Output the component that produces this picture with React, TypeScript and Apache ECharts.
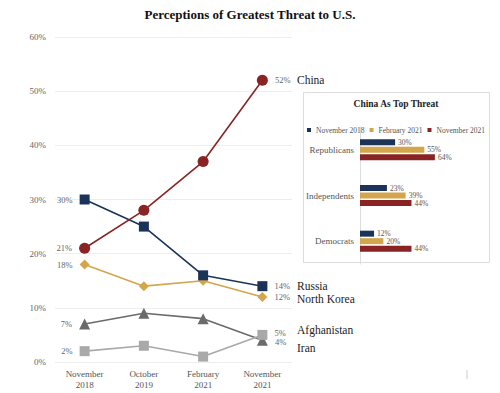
import React, { useEffect, useRef } from "react";
import * as echarts from "echarts";

const periods = ["November\n2018", "October\n2019", "February\n2021", "November\n2021"];
const china = [21, 28, 37, 52];
const russia = [30, 25, 16, 14];
const northKorea = [18, 14, 15, 12];
const afghanistan = [7, 9, 8, 4];
const iran = [2, 3, 1, 5];
const yTicks = [0, 10, 20, 30, 40, 50, 60];

const parties = ["Republicans", "Independents", "Democrats"];
const nov2018 = [30, 23, 12];
const feb2021 = [55, 39, 20];
const nov2021 = [64, 44, 44];

const SERIF = "'Liberation Serif', 'DejaVu Serif', serif";
const NAVY = "#1b3358";
const GOLD = "#d3a54c";
const RED = "#8a2424";
const DGRAY = "#6b6b6b";
const LGRAY = "#a9a9a9";

function endLabels(vals: number[], lastOffsetY = 0) {
  const last = vals.length - 1;
  return vals.map((v, i) => ({
    value: v,
    label: {
      show: i === 0 || i === last,
      position: i === 0 ? "left" : "right",
      distance: 7,
      offset: i === last ? [0, lastOffsetY] : [0, 0],
      formatter: "{c}%",
      fontSize: 8.5,
      color: "#666",
      fontFamily: SERIF,
    },
  }));
}

function lineSeries(name: string, vals: number[], color: string, symbol: string, size: number, lastOffsetY = 0) {
  return {
    name,
    type: "line",
    xAxisIndex: 0,
    yAxisIndex: 0,
    data: endLabels(vals, lastOffsetY),
    symbol,
    symbolSize: size,
    itemStyle: { color },
    lineStyle: { color, width: 1.6 },
  };
}

export default function App() {
  const ref = useRef<HTMLDivElement>(null);
  useEffect(() => {
    if (!ref.current) return;
    const chart = echarts.init(ref.current, undefined, { renderer: "svg" });
    const barLabel = { show: true, position: "right", distance: 3, formatter: "{c}%", fontSize: 7.5, color: "#555", fontFamily: SERIF };
    chart.setOption({
      animation: false,
      backgroundColor: "#fff",
      textStyle: { fontFamily: SERIF },
      title: {
        text: "Perceptions of Greatest Threat to U.S.",
        left: "center",
        top: 3,
        textStyle: { fontFamily: SERIF, fontSize: 13, fontWeight: "bold", color: "#111" },
      },
      legend: {
        top: 121,
        left: 302,
        width: 195,
        itemWidth: 4,
        itemHeight: 4,
        itemGap: 5,
        icon: "rect",
        textStyle: { fontSize: 7.5, color: "#555", fontFamily: SERIF },
        data: ["November 2018", "February 2021", "November 2021"],
      },
      grid: [
        { left: 55, right: 208, top: 37, bottom: 31 },
        { left: 360, width: 117, top: 127, height: 137 },
      ],
      xAxis: [
        {
          type: "category",
          gridIndex: 0,
          data: periods,
          boundaryGap: true,
          axisLine: { show: false },
          axisTick: { show: false },
          axisLabel: { fontSize: 9, color: "#555", lineHeight: 11, margin: 6, fontFamily: SERIF },
        },
        { type: "value", gridIndex: 1, min: 0, max: 100, show: false },
      ],
      yAxis: [
        {
          type: "value",
          gridIndex: 0,
          min: yTicks[0],
          max: yTicks[yTicks.length - 1],
          interval: 10,
          axisLabel: { formatter: "{value}%", fontSize: 9, color: "#666", margin: 9, fontFamily: SERIF },
          splitLine: { lineStyle: { color: "#eeeeee" } },
          axisLine: { show: false },
          axisTick: { show: false },
        },
        {
          type: "category",
          gridIndex: 1,
          data: parties,
          inverse: true,
          axisLine: { show: true, lineStyle: { color: "#dddddd" } },
          axisTick: { show: false },
          axisLabel: { fontSize: 9, color: "#555", margin: 6, fontFamily: SERIF },
        },
      ],
      graphic: [
        {
          type: "rect",
          shape: { x: 303.5, y: 92.5, width: 186, height: 170 },
          style: { fill: "none", stroke: "#dddddd", lineWidth: 1 },
          z: -1,
        },
        {
          type: "text",
          x: 396,
          y: 104,
          style: { text: "China As Top Threat", font: `bold 9.5px ${SERIF}`, fill: "#222", textAlign: "center", textVerticalAlign: "middle" },
        },
        { type: "text", x: 297, y: 80, style: { text: "China", font: `11.5px ${SERIF}`, fill: "#222", textVerticalAlign: "middle" } },
        { type: "text", x: 297, y: 286, style: { text: "Russia", font: `11.5px ${SERIF}`, fill: "#222", textVerticalAlign: "middle" } },
        { type: "text", x: 297, y: 299, style: { text: "North Korea", font: `11.5px ${SERIF}`, fill: "#222", textVerticalAlign: "middle" } },
        { type: "text", x: 297, y: 330, style: { text: "Afghanistan", font: `11.5px ${SERIF}`, fill: "#222", textVerticalAlign: "middle" } },
        { type: "text", x: 297, y: 348, style: { text: "Iran", font: `11.5px ${SERIF}`, fill: "#222", textVerticalAlign: "middle" } },
        { type: "line", shape: { x1: 467, y1: 370, x2: 467, y2: 379 }, style: { stroke: "#cccccc", lineWidth: 1 } },
      ],
      series: [
        lineSeries("Afghanistan", afghanistan, DGRAY, "triangle", 11, 2),
        lineSeries("Iran", iran, LGRAY, "rect", 10, -2),
        lineSeries("North Korea", northKorea, GOLD, "diamond", 10),
        lineSeries("Russia", russia, NAVY, "rect", 10),
        lineSeries("China", china, RED, "circle", 11),
        { name: "November 2018", type: "bar", xAxisIndex: 1, yAxisIndex: 1, data: nov2018, barWidth: 6, barGap: "25%", itemStyle: { color: NAVY }, label: barLabel },
        { name: "February 2021", type: "bar", xAxisIndex: 1, yAxisIndex: 1, data: feb2021, barWidth: 6, barGap: "25%", itemStyle: { color: GOLD }, label: barLabel },
        { name: "November 2021", type: "bar", xAxisIndex: 1, yAxisIndex: 1, data: nov2021, barWidth: 6, barGap: "25%", itemStyle: { color: RED }, label: barLabel },
      ],
    });
    return () => chart.dispose();
  }, []);
  return <div ref={ref} style={{ width: 500, height: 393, position: "absolute", left: 0, top: 0 }} />;
}
